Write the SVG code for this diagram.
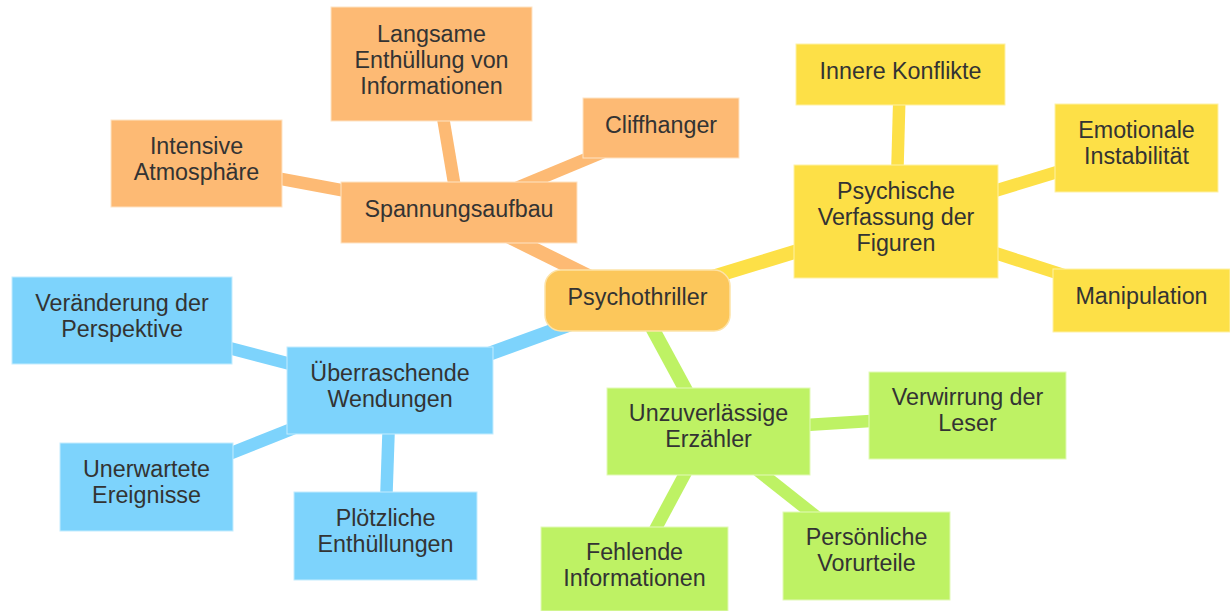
<svg xmlns="http://www.w3.org/2000/svg" width="1230" height="611" viewBox="0 0 1230 611">
<style>
text{font-family:"Liberation Sans",Arial,sans-serif;font-size:23.3px;fill:#333;text-anchor:middle}
.o{fill:#FDBA74;stroke:#FEE3C4;stroke-width:1}
.y{fill:#FDE047;stroke:#FEF1A6;stroke-width:1}
.b{fill:#7DD3FC;stroke:#C4ECFE;stroke-width:1}
.g{fill:#BEF264;stroke:#E2F9B8;stroke-width:1}
.c{fill:#FCC75B;stroke:#FDE3A8;stroke-width:1.5}
.lo{stroke:#FDBA74}.ly{stroke:#FDE047}.lb{stroke:#7DD3FC}.lg{stroke:#BEF264}
#connectors line{stroke-width:12.5;stroke-linecap:butt}
#connectors line.r{stroke-width:14}
</style>
<rect width="1230" height="611" fill="#fff"/>
<g id="connectors">
<line class="lo r" x1="637" y1="300" x2="459" y2="212"/>
<line class="lo" x1="459" y1="212" x2="434" y2="64"/>
<line class="lo" x1="459" y1="212" x2="196" y2="163"/>
<line class="lo" x1="459" y1="212" x2="661" y2="128"/>
<line class="ly r" x1="637" y1="300" x2="896" y2="221"/>
<line class="ly" x1="896" y1="221" x2="900" y2="74"/>
<line class="ly" x1="896" y1="221" x2="1136" y2="148"/>
<line class="ly" x1="896" y1="221" x2="1141" y2="300"/>
<line class="lb r" x1="637" y1="300" x2="390" y2="390"/>
<line class="lb" x1="390" y1="390" x2="122" y2="320"/>
<line class="lb" x1="390" y1="390" x2="146" y2="487"/>
<line class="lb" x1="390" y1="390" x2="385" y2="536"/>
<line class="lg r" x1="637" y1="300" x2="708" y2="431"/>
<line class="lg" x1="708" y1="431" x2="967" y2="415"/>
<line class="lg" x1="708" y1="431" x2="866" y2="556"/>
<line class="lg" x1="708" y1="431" x2="634" y2="569"/>
</g>
<g id="root"><rect class="c" x="545" y="270" width="185" height="61" rx="16"/><text x="637.5" y="305">Psychothriller</text></g>
<g id="spannungsaufbau"><rect class="o" x="341" y="182" width="236" height="61"/><text x="459" y="217">Spannungsaufbau</text></g>
<g id="langsame"><rect class="o" x="331" y="7" width="201" height="114"/><text x="431.5" y="42">Langsame</text><text x="431.5" y="68">Enthüllung von</text><text x="431.5" y="94">Informationen</text></g>
<g id="intensive"><rect class="o" x="111" y="120" width="171" height="87"/><text x="196.5" y="154">Intensive</text><text x="196.5" y="180">Atmosphäre</text></g>
<g id="cliffhanger"><rect class="o" x="583" y="98" width="156" height="60"/><text x="661" y="133">Cliffhanger</text></g>
<g id="psychische"><rect class="y" x="794" y="165" width="204" height="113"/><text x="896" y="199">Psychische</text><text x="896" y="225">Verfassung der</text><text x="896" y="251">Figuren</text></g>
<g id="innere"><rect class="y" x="796" y="44" width="209" height="61"/><text x="900.5" y="79">Innere Konflikte</text></g>
<g id="emotionale"><rect class="y" x="1055" y="104" width="163" height="88"/><text x="1136.5" y="138">Emotionale</text><text x="1136.5" y="164">Instabilität</text></g>
<g id="manipulation"><rect class="y" x="1053" y="269" width="177" height="63"/><text x="1141.5" y="304">Manipulation</text></g>
<g id="ueberraschende"><rect class="b" x="287" y="347" width="206" height="87"/><text x="390" y="381">Überraschende</text><text x="390" y="407">Wendungen</text></g>
<g id="veraenderung"><rect class="b" x="12" y="277" width="220" height="87"/><text x="122" y="311">Veränderung der</text><text x="122" y="337">Perspektive</text></g>
<g id="unerwartete"><rect class="b" x="60" y="443" width="173" height="88"/><text x="146.5" y="477">Unerwartete</text><text x="146.5" y="503">Ereignisse</text></g>
<g id="ploetzliche"><rect class="b" x="294" y="492" width="183" height="88"/><text x="385.5" y="526">Plötzliche</text><text x="385.5" y="552">Enthüllungen</text></g>
<g id="unzuverlaessige"><rect class="g" x="607" y="388" width="203" height="87"/><text x="708.5" y="421">Unzuverlässige</text><text x="708.5" y="447">Erzähler</text></g>
<g id="verwirrung"><rect class="g" x="869" y="372" width="197" height="87"/><text x="967.5" y="405">Verwirrung der</text><text x="967.5" y="431">Leser</text></g>
<g id="persoenliche"><rect class="g" x="783" y="512" width="167" height="88"/><text x="866.5" y="545">Persönliche</text><text x="866.5" y="571">Vorurteile</text></g>
<g id="fehlende"><rect class="g" x="541" y="527" width="187" height="84"/><text x="634.5" y="560">Fehlende</text><text x="634.5" y="586">Informationen</text></g>
</svg>
